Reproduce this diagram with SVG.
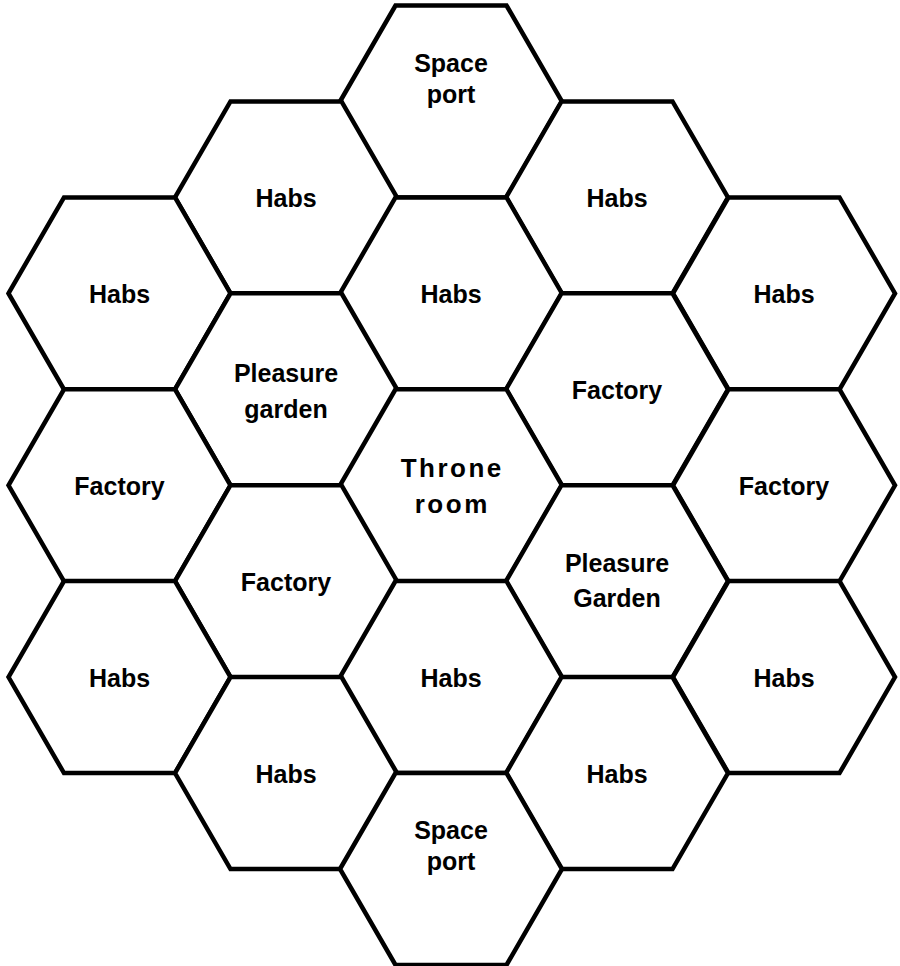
<svg xmlns="http://www.w3.org/2000/svg" width="900" height="966" viewBox="0 0 900 966">
<style>
.hex{fill:#fff;stroke:#000;stroke-width:4.5;stroke-linejoin:miter}
.t{font-family:"Liberation Sans",Arial,Helvetica,sans-serif;font-weight:bold;font-size:25px;fill:#000;text-anchor:middle}
.tr{font-size:26px;letter-spacing:2.5px}
</style>
<defs>
<polygon id="hx" points="-111,0 -55.5,-96 55.5,-96 111,0 55.5,96 -55.5,96"/>
</defs>
<rect width="900" height="966" fill="#fff"/>
<g id="connectors"></g>
<g id="n-spaceport-top" transform="translate(451,101.5)"><use href="#hx" class="hex"/><text class="t" y="-29.5">Space</text><text class="t" y="1.5">port</text></g>
<g id="n-habs-c1r1" transform="translate(286,197.4)"><use href="#hx" class="hex"/><text class="t" y="9.5">Habs</text></g>
<g id="n-habs-c3r1" transform="translate(617,197.4)"><use href="#hx" class="hex"/><text class="t" y="9.5">Habs</text></g>
<g id="n-habs-c0r2" transform="translate(119.5,293.4)"><use href="#hx" class="hex"/><text class="t" y="9.5">Habs</text></g>
<g id="n-habs-c2r2" transform="translate(451,293.4)"><use href="#hx" class="hex"/><text class="t" y="9.5">Habs</text></g>
<g id="n-habs-c4r2" transform="translate(784,293.4)"><use href="#hx" class="hex"/><text class="t" y="9.5">Habs</text></g>
<g id="n-pleasure-c1r3" transform="translate(286,389.3)"><use href="#hx" class="hex"/><text class="t" y="-7.5">Pleasure</text><text class="t" y="28.5">garden</text></g>
<g id="n-factory-c3r3" transform="translate(617,389.3)"><use href="#hx" class="hex"/><text class="t" y="9.5">Factory</text></g>
<g id="n-factory-c0r4" transform="translate(119.5,485.3)"><use href="#hx" class="hex"/><text class="t" y="9.5">Factory</text></g>
<g id="n-throne" transform="translate(451,485.3)"><use href="#hx" class="hex"/><text class="t tr" x="1.25" y="-8.3">Throne</text><text class="t tr" x="1.25" y="27.7">room</text></g>
<g id="n-factory-c4r4" transform="translate(784,485.3)"><use href="#hx" class="hex"/><text class="t" y="9.5">Factory</text></g>
<g id="n-factory-c1r5" transform="translate(286,581.2)"><use href="#hx" class="hex"/><text class="t" y="9.5">Factory</text></g>
<g id="n-pleasure-c3r5" transform="translate(617,581.2)"><use href="#hx" class="hex"/><text class="t" y="-9">Pleasure</text><text class="t" y="26">Garden</text></g>
<g id="n-habs-c0r6" transform="translate(119.5,677.1)"><use href="#hx" class="hex"/><text class="t" y="9.5">Habs</text></g>
<g id="n-habs-c2r6" transform="translate(451,677.1)"><use href="#hx" class="hex"/><text class="t" y="9.5">Habs</text></g>
<g id="n-habs-c4r6" transform="translate(784,677.1)"><use href="#hx" class="hex"/><text class="t" y="9.5">Habs</text></g>
<g id="n-habs-c1r7" transform="translate(286,773.1)"><use href="#hx" class="hex"/><text class="t" y="9.5">Habs</text></g>
<g id="n-habs-c3r7" transform="translate(617,773.1)"><use href="#hx" class="hex"/><text class="t" y="9.5">Habs</text></g>
<g id="n-spaceport-bottom" transform="translate(451,869)"><use href="#hx" class="hex"/><text class="t" y="-30">Space</text><text class="t" y="1">port</text></g>
</svg>
